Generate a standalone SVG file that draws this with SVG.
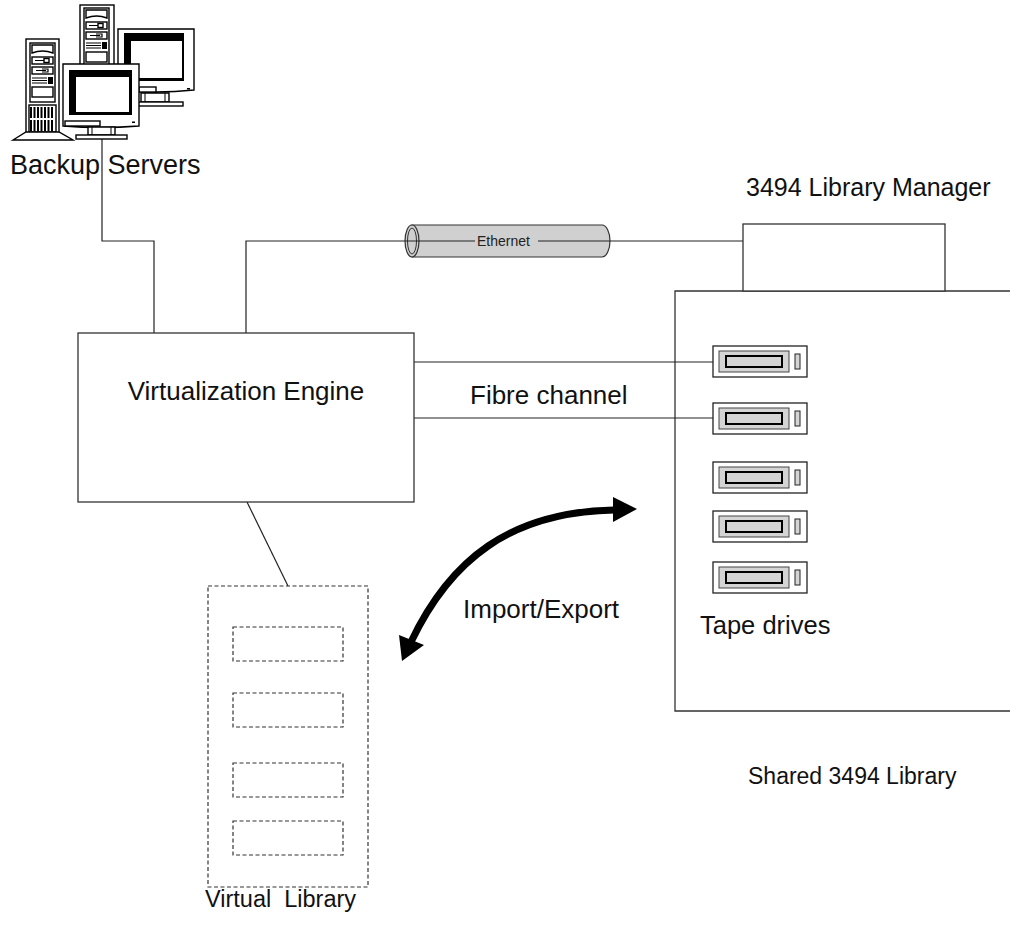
<svg xmlns="http://www.w3.org/2000/svg" width="1010" height="934" viewBox="0 0 1010 934">
  <style>
    .lbl { font-family: "Liberation Sans", Arial, sans-serif; font-size: 26px; fill: #111; }
    .small { font-family: "Liberation Sans", Arial, sans-serif; font-size: 14px; fill: #222; }
    .box { fill: #fff; stroke: #333; stroke-width: 1.3; }
    .edge { fill: none; stroke: #333; stroke-width: 1.3; }
    .wire { fill: none; stroke: #222; stroke-width: 1.2; }
    .dash { fill: none; stroke: #333; stroke-width: 1.2; stroke-dasharray: 4 2.5; }
    .ink { fill: #fff; stroke: #000; stroke-width: 1.4; }
    .blk { fill: #000; }
    .drive-outer { fill: #fff; stroke: #222; stroke-width: 1.3; }
    .drive-tray { fill: #d4d4d4; stroke: #444; stroke-width: 1; }
    .drive-slot { fill: #d4d4d4; stroke: #000; stroke-width: 2; }
    .drive-led { fill: #d4d4d4; stroke: #222; stroke-width: 1; }
  </style>
  <defs>
    <!-- tape drive bay: outer face, recessed tray, cartridge slot, status light -->
    <g id="tapeDrive">
      <rect class="drive-outer" x="0" y="0" width="94" height="31"/>
      <rect class="drive-tray" x="6" y="5" width="70" height="21"/>
      <rect class="drive-slot" x="13" y="10" width="56" height="11"/>
      <rect class="drive-led" x="82" y="8" width="5" height="15"/>
    </g>
    <!-- tower front panel -->
    <g id="towerPanel">
      <rect class="ink" x="0" y="0" width="25" height="59"/>
      <path class="ink" d="M2,2 L23,2 L23,10 Q12.5,6 2,10 Z"/>
      <rect class="ink" x="2" y="14" width="21" height="7"/>
      <line x1="5" y1="17.5" x2="15" y2="17.5" stroke="#000" stroke-width="1"/>
      <rect class="ink" x="14" y="15.5" width="5" height="4" stroke-width="1"/>
      <rect class="ink" x="2" y="24" width="21" height="7"/>
      <path d="M6,27.5 L16,27.5 M12,26 L18,26 L18,29 L12,29" stroke="#000" stroke-width="1.2" fill="none"/>
      <g stroke="#000" stroke-width="1">
        <line x1="2" y1="35" x2="17" y2="35"/>
        <line x1="2" y1="37.5" x2="17" y2="37.5"/>
        <line x1="2" y1="40" x2="17" y2="40"/>
      </g>
      <rect class="blk" x="18" y="34" width="5" height="7"/>
      <rect class="ink" x="2" y="44" width="21" height="10"/>
    </g>
    <!-- vent slots on the tower base -->
    <g id="vents">
      <rect class="blk" x="0" y="0" width="2" height="11"/>
      <rect class="blk" x="3.5" y="0" width="2" height="11"/>
      <rect class="blk" x="7" y="0" width="2" height="11"/>
      <rect class="blk" x="10.5" y="0" width="2" height="11"/>
      <rect class="blk" x="14" y="0" width="2" height="11"/>
      <rect class="blk" x="17.5" y="0" width="2" height="11"/>
      <rect class="blk" x="21" y="0" width="2" height="11"/>
    </g>
  </defs>

  <!-- shared library housing (drawn first so cabling crosses its edge) -->
  <g id="shared-library-housing">
    <polyline class="edge" points="1012,291 675,291 675,711 1012,711"/>
  </g>

  <!-- connectors -->
  <g id="connectors">
    <polyline class="wire" points="102,138 102,241 154,241 154,333"/>
    <polyline class="wire" points="246,333 246,241 405,241"/>
    <line class="wire" x1="538" y1="241" x2="743" y2="241"/>
    <line class="wire" x1="414" y1="362" x2="713" y2="362"/>
    <line class="wire" x1="414" y1="418" x2="713" y2="418"/>
    <line class="wire" x1="247" y1="502" x2="288" y2="586"/>
    <!-- import / export arrow -->
    <path d="M411,642 C450,560 510,512 614,510" fill="none" stroke="#000" stroke-width="7"/>
    <polygon class="blk" points="637,509 613,497 613,522"/>
    <polygon class="blk" points="402,661 399,635 424,645"/>
  </g>

  <!-- Ethernet cable -->
  <g id="ethernet">
    <path d="M412,225 L602,225 A8,16 0 0 1 602,257 L412,257 Z" fill="#d0d0d0" stroke="#333" stroke-width="1.2"/>
    <ellipse cx="412" cy="241" rx="7" ry="16" fill="#d0d0d0" stroke="#333" stroke-width="1.2"/>
    <ellipse cx="412" cy="241" rx="4.5" ry="13" fill="none" stroke="#333" stroke-width="1"/>
    <line class="wire" x1="405" y1="241" x2="475" y2="241"/>
    <line class="wire" x1="538" y1="241" x2="610" y2="241"/>
    <text class="small" x="477" y="246">Ethernet</text>
  </g>

  <!-- backup servers -->
  <g id="backup-servers">
    <!-- rear tower -->
    <rect class="ink" x="80" y="5" width="34" height="60"/>
    <use href="#towerPanel" x="84" y="8"/>
    <!-- rear monitor -->
    <path class="ink" d="M118,29 L194,29 L194,90 Q156,94 118,90 Z"/>
    <rect class="blk" x="124" y="33" width="60" height="48"/>
    <rect fill="#fff" x="131" y="41" width="51" height="37"/>
    <rect class="ink" x="139" y="87" width="17" height="5" stroke-width="1"/>
    <rect class="blk" x="187" y="88" width="3" height="1.5"/>
    <path class="ink" d="M141,93 L169,93 L169,102 L141,102 Z"/>
    <line x1="145" y1="93" x2="145" y2="102" stroke="#000" stroke-width="1"/>
    <line x1="165" y1="93" x2="165" y2="102" stroke="#000" stroke-width="1"/>
    <rect class="ink" x="137" y="102" width="46" height="4"/>
    <!-- front tower -->
    <rect class="ink" x="26" y="39" width="33" height="94"/>
    <use href="#towerPanel" x="30" y="43"/>
    <rect class="ink" x="29" y="105" width="27" height="27" stroke-width="1"/>
    <use href="#vents" x="30" y="107"/>
    <use href="#vents" x="30" y="120"/>
    <path class="ink" d="M13,140 L26,132 L59,132 L73,140 Z"/>
    <!-- front monitor -->
    <path class="ink" d="M63,64 L139,64 L139,126 Q101,129 63,126 Z"/>
    <rect class="blk" x="69" y="70" width="63" height="45"/>
    <rect fill="#fff" x="76" y="77" width="53" height="35"/>
    <rect class="ink" x="65" y="121" width="35" height="5" stroke-width="1"/>
    <rect class="blk" x="132" y="121.5" width="3" height="1.5"/>
    <path class="ink" d="M88,127 L115,127 L115,135 L88,135 Z"/>
    <line x1="92" y1="127" x2="92" y2="135" stroke="#000" stroke-width="1"/>
    <line x1="111" y1="127" x2="111" y2="135" stroke="#000" stroke-width="1"/>
    <rect class="ink" x="76" y="135" width="51" height="4"/>
    <text class="lbl" x="10" y="174" style="font-size:27px">Backup Servers</text>
  </g>

  <!-- library manager -->
  <g id="library-manager">
    <rect class="box" x="743" y="224" width="202" height="67"/>
    <text class="lbl" x="746" y="196" style="font-size:25px">3494 Library Manager</text>
  </g>

  <!-- virtualization engine -->
  <g id="virtualization-engine">
    <rect class="box" x="78" y="333" width="336" height="169"/>
    <text class="lbl" x="246" y="400" text-anchor="middle">Virtualization Engine</text>
  </g>

  <!-- fibre channel label -->
  <g id="fibre-label">
    <text class="lbl" x="470" y="404">Fibre channel</text>
  </g>

  <!-- tape drives -->
  <g id="tape-drives">
    <use href="#tapeDrive" x="713" y="346"/>
    <use href="#tapeDrive" x="713" y="403"/>
    <use href="#tapeDrive" x="713" y="462"/>
    <use href="#tapeDrive" x="713" y="511"/>
    <use href="#tapeDrive" x="713" y="562"/>
    <text class="lbl" x="700" y="634" style="font-size:25.5px">Tape drives</text>
  </g>

  <!-- shared library label -->
  <g id="shared-library">
    <text class="lbl" x="748" y="784" style="font-size:23px">Shared 3494 Library</text>
  </g>

  <!-- import / export label -->
  <g id="import-export-label">
    <text class="lbl" x="463" y="618">Import/Export</text>
  </g>

  <!-- virtual library -->
  <g id="virtual-library">
    <rect class="dash" x="208" y="586" width="160" height="301"/>
    <rect class="dash" x="233" y="627" width="110" height="34"/>
    <rect class="dash" x="233" y="693" width="110" height="34"/>
    <rect class="dash" x="233" y="763" width="110" height="34"/>
    <rect class="dash" x="233" y="821" width="110" height="34"/>
    <text class="lbl" x="205" y="907" style="font-size:23.5px" xml:space="preserve">Virtual  Library</text>
  </g>
</svg>
